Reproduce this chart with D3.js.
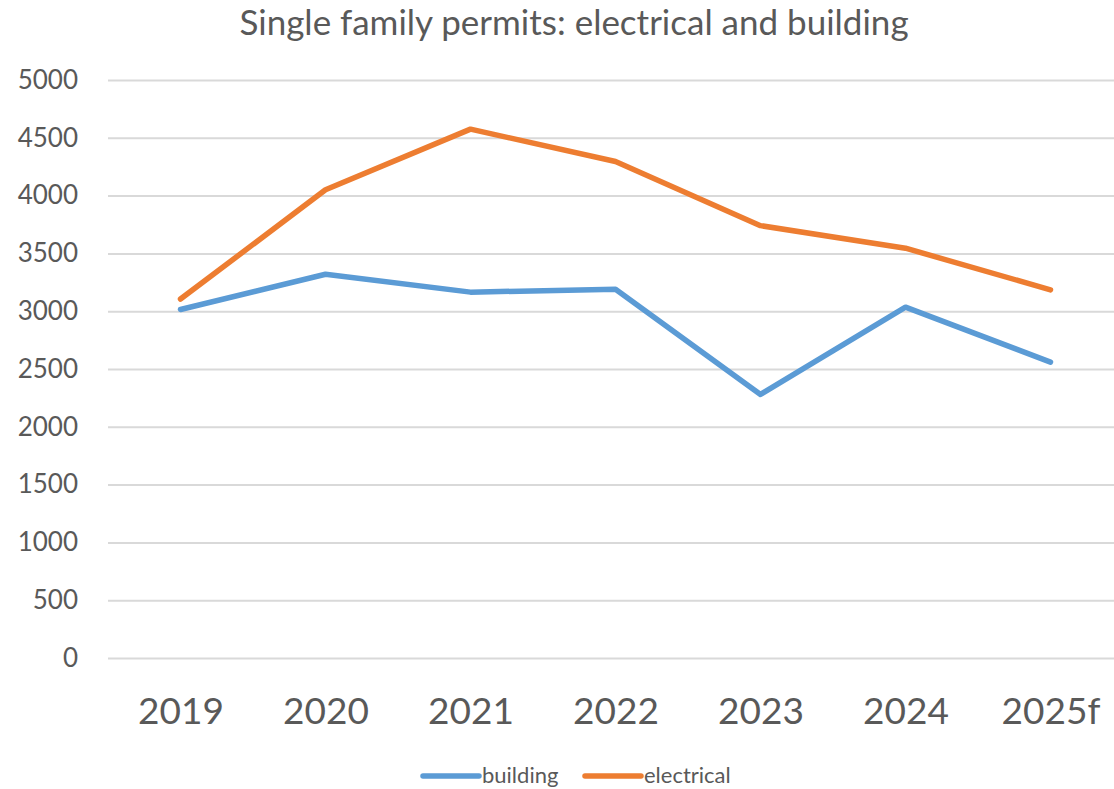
<!DOCTYPE html>
<html>
<head>
<meta charset="utf-8">
<script src="https://cdn.jsdelivr.net/npm/d3@7"></script>
<style>
  body { margin: 0; background: #fff; }
  text { font-family: Lato, "Open Sans", sans-serif; fill: #595959; }
</style>
</head>
<body>
<svg id="canvas" width="1114" height="789"></svg>
<script>
// chart data
let years = ["2019", "2020", "2021", "2022", "2023", "2024", "2025f"];
let building = [3015, 3320, 3165, 3190, 2280, 3035, 2560];
let electrical = [3105, 4050, 4575, 4295, 3740, 3545, 3185];
let yTicks = [0, 500, 1000, 1500, 2000, 2500, 3000, 3500, 4000, 4500, 5000];

let series = [
    { name: "building", values: building, color: "#5b9bd5" },
    { name: "electrical", values: electrical, color: "#ed7d31" }
];

let canvas = d3.select("#canvas");

let x = d3.scalePoint()
    .domain(years)
    .range([108, 1123])
    .padding(0.5);

let y = d3.scaleLinear()
    .domain([0, 5000])
    .range([658, 80]);

// title
canvas.append("text")
    .attr("x", 574)
    .attr("y", 35)
    .attr("text-anchor", "middle")
    .style("font-size", "35px")
    .text("Single family permits: electrical and building");

// gridlines + y labels
let yAxis = d3.axisLeft(y)
    .tickValues(yTicks)
    .tickFormat(d3.format("d"))
    .tickSize(-1015)
    .tickPadding(30);

let gy = canvas.append("g")
    .attr("transform", "translate(108,0)")
    .call(yAxis);
gy.select(".domain").remove();
gy.selectAll(".tick line").attr("stroke", "#d9d9d9").attr("stroke-width", 2);
gy.selectAll(".tick text")
    .style("font-size", "26px")
    .style("font-family", "Lato, 'Open Sans', sans-serif")
    .attr("fill", "#595959");

// x labels
let xAxis = d3.axisBottom(x).tickSize(0).tickPadding(40);
let gx = canvas.append("g")
    .attr("transform", "translate(0,658)")
    .call(xAxis);
gx.select(".domain").remove();
gx.selectAll(".tick text")
    .style("font-size", "37px")
    .style("font-family", "Lato, 'Open Sans', sans-serif")
    .attr("fill", "#595959");

// lines
let line = d3.line()
    .x((d, i) => x(years[i]))
    .y(d => y(d));

canvas.selectAll("path.series")
    .data(series)
    .join("path")
    .attr("class", "series")
    .attr("fill", "none")
    .attr("stroke", d => d.color)
    .attr("stroke-width", 5.5)
    .attr("stroke-linecap", "round")
    .attr("stroke-linejoin", "round")
    .attr("d", d => line(d.values));

// legend
let legendX = [423, 585];
let legend = canvas.selectAll("g.legend")
    .data(series)
    .join("g")
    .attr("class", "legend")
    .attr("transform", (d, i) => "translate(" + legendX[i] + ",776)");
legend.append("line")
    .attr("x1", 0).attr("x2", 56)
    .attr("y1", 0).attr("y2", 0)
    .attr("stroke", d => d.color)
    .attr("stroke-width", 5.5)
    .attr("stroke-linecap", "round");
legend.append("text")
    .attr("x", 59)
    .attr("y", 7)
    .style("font-size", "22px")
    .text(d => d.name);
</script>
</body>
</html>
